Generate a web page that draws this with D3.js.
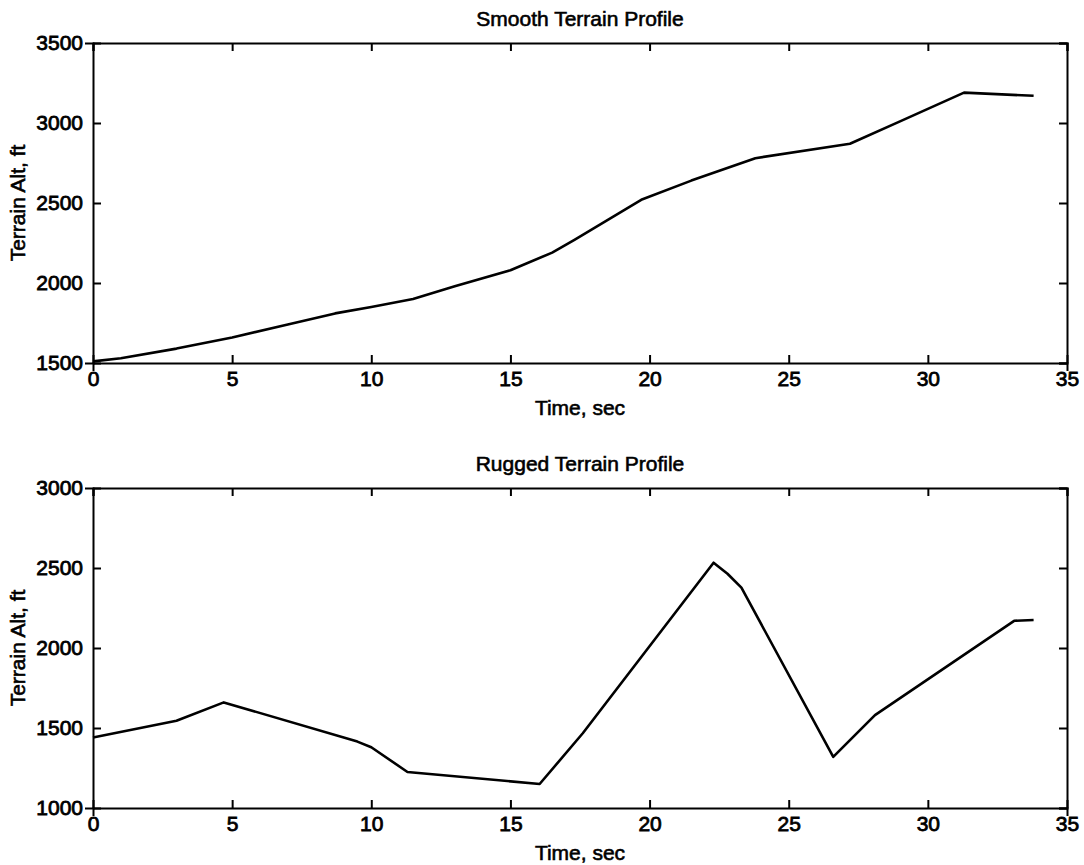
<!DOCTYPE html>
<html>
<head>
<meta charset="utf-8">
<script src="https://cdn.jsdelivr.net/npm/d3@7"></script>
<style>
    body { margin: 0; background: #fff; }
    text { font-family: "Liberation Sans", Arial, Helvetica, sans-serif; fill: #000; }
</style>
</head>
<body>
<div class="chart"></div>
<script>
// smooth terrain profile
var smoothTime = [0, 1, 3, 5, 7, 8.7, 10, 11.5, 13, 15, 16.5, 17.3, 19.7, 21.5, 23.8, 27.2, 29, 31.3, 33.8];
var smoothAlt = [1510, 1530, 1590, 1660, 1740, 1810, 1850, 1900, 1980, 2080, 2190, 2270, 2520, 2640, 2780, 2870, 3010, 3190, 3170];

// rugged terrain profile
var ruggedTime = [0, 3, 4.7, 9.5, 10, 11.3, 16.05, 17.6, 22.3, 22.8, 23.3, 26.6, 28.1, 33.1, 33.8];
var ruggedAlt = [1440, 1545, 1660, 1415, 1380, 1225, 1150, 1467, 2533, 2464, 2377, 1320, 1580, 2170, 2175];

var xTicks = [0, 5, 10, 15, 20, 25, 30, 35];
var smoothYTicks = [1500, 2000, 2500, 3000, 3500];
var ruggedYTicks = [1000, 1500, 2000, 2500, 3000];

var titles = ['Smooth Terrain Profile', 'Rugged Terrain Profile'];
var xLabel = 'Time, sec';
var yLabel = 'Terrain Alt, ft';

var W = 1084, H = 865;
var margin = {
    left: 93,
    right: 17
};
var width = W - margin.left - margin.right;
var panelHeight = 320;
var panelTops = [43, 488];

var svg = d3.select('.chart')
    .append('svg')
    .attr('width', W)
    .attr('height', H);

function drawPanel(top, time, alt, yTicks, title) {
    var g = svg.append('g')
        .attr('transform', 'translate(' + margin.left + ', ' + top + ')');

    var x = d3.scaleLinear().domain([0, 35]).range([0, width]);
    var y = d3.scaleLinear().domain([yTicks[0], yTicks[yTicks.length - 1]]).range([panelHeight, 0]);

    // ticks point inward on all four sides, like matlab
    var tick = 8;
    var xAxis = d3.axisBottom(x).tickValues(xTicks).tickSize(tick).tickPadding(4).tickFormat(d3.format('d'));
    var yAxis = d3.axisLeft(y).tickValues(yTicks).tickSize(tick).tickPadding(6).tickFormat(d3.format('d'));

    g.append('g')
        .attr('class', 'axis')
        .attr('transform', `translate(0, ${panelHeight})`)
        .call(xAxis)
        .call(a => a.selectAll('.tick line').attr('y2', -tick))
        .call(a => a.selectAll('.tick text').attr('y', 8));
    g.append('g')
        .attr('class', 'axis')
        .call(yAxis)
        .call(a => a.selectAll('.tick line').attr('x2', tick))
        .call(a => a.selectAll('.tick text').attr('x', -10));
    // top + right ticks, no labels
    g.append('g')
        .attr('class', 'axis')
        .call(d3.axisTop(x).tickValues(xTicks).tickSize(-tick).tickFormat(''));
    g.append('g')
        .attr('class', 'axis')
        .attr('transform', `translate(${width}, 0)`)
        .call(d3.axisRight(y).tickValues(yTicks).tickSize(-tick).tickFormat(''));

    g.selectAll('.axis path').attr('stroke', '#000').attr('stroke-width', 2);
    g.selectAll('.axis line').attr('stroke', '#000').attr('stroke-width', 2);
    g.selectAll('.axis text')
        .style('font-size', '21px')
        .style('font-family', '"Liberation Sans", Arial, sans-serif')
        .attr('fill', '#000')
        .attr('stroke', '#000')
        .attr('stroke-width', 0.8);

    var line = d3.line()
        .x(function(d, i) { return x(time[i]); })
        .y(function(d) { return y(d); });
    g.append('path')
        .datum(alt)
        .attr('fill', 'none')
        .attr('stroke', '#000')
        .attr('stroke-width', 2.6)
        .attr('stroke-linejoin', 'round')
        .attr('d', line);

    g.append('text')
        .attr('x', width / 2)
        .attr('y', -17)
        .attr('text-anchor', 'middle')
        .style('font-size', '21px')
        .attr('stroke', '#000')
        .attr('stroke-width', 0.6)
        .text(title);

    g.append('text')
        .attr('x', width / 2)
        .attr('y', panelHeight + 52)
        .attr('text-anchor', 'middle')
        .style('font-size', '21px')
        .attr('stroke', '#000')
        .attr('stroke-width', 0.6)
        .text(xLabel);

    g.append('text')
        .attr('transform', 'translate(' + (-68) + ', ' + (panelHeight / 2) + ') rotate(-90)')
        .attr('text-anchor', 'middle')
        .style('font-size', '21px')
        .attr('stroke', '#000')
        .attr('stroke-width', 0.6)
        .text(yLabel);
}

drawPanel(panelTops[0], smoothTime, smoothAlt, smoothYTicks, titles[0]);
drawPanel(panelTops[1], ruggedTime, ruggedAlt, ruggedYTicks, titles[1]);
</script>
</body>
</html>
